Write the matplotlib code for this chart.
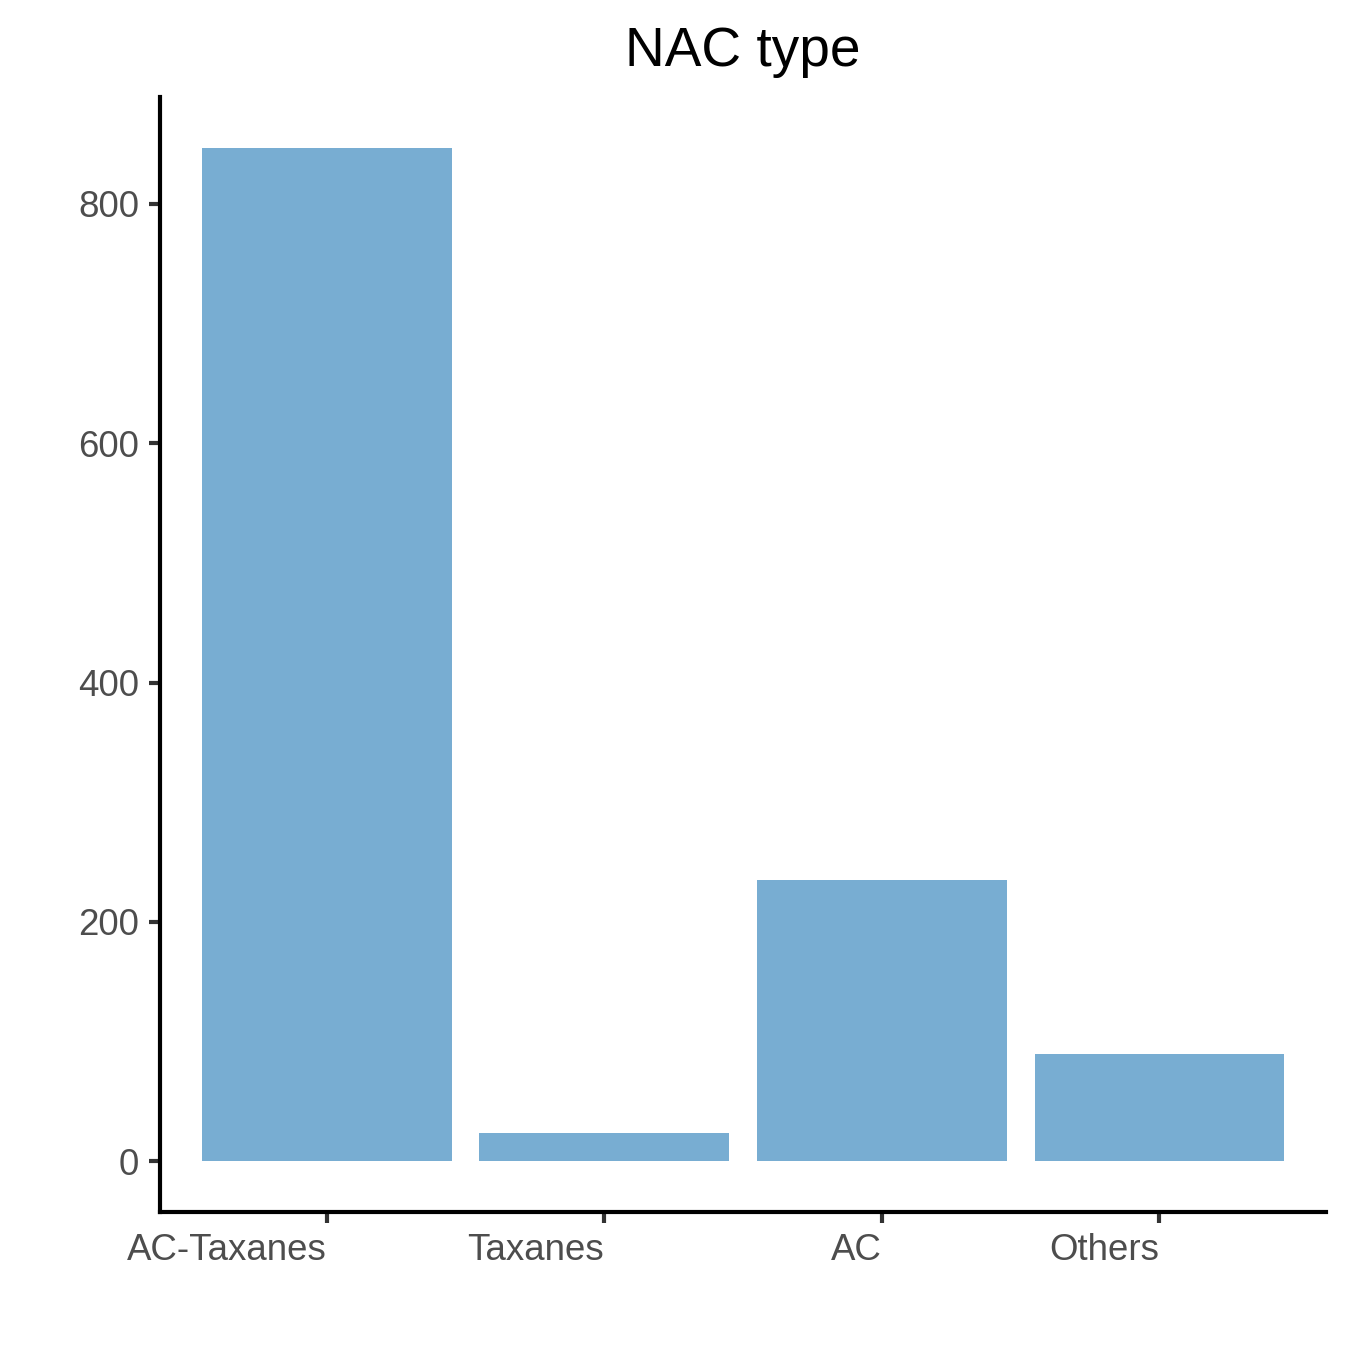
import matplotlib
matplotlib.use("Agg")
import matplotlib.pyplot as plt

categories = ["AC-Taxanes", "Taxanes", "AC", "Others"]
counts = [847, 24, 235, 90]
yticks = [0, 200, 400, 600, 800]
title = "NAC type"

plt.rcParams['font.family'] = ['Liberation Sans', 'DejaVu Sans']

fig = plt.figure(figsize=(4.5, 4.5), dpi=300)
ax = fig.add_axes([160/1350, 1-1212/1350, (1326-160)/1350, (1212-97)/1350])

x = list(range(1, len(categories) + 1))
ax.bar(x, counts, width=0.9, color="#78ADD2", edgecolor="none")

ax.set_xlim(0.4, 4.6)
ymax = max(counts)
ax.set_ylim(-0.05 * ymax, 1.05 * ymax)
ax.set_xticks(x)
ax.set_xticklabels(categories, ha="right")
ax.set_yticks(yticks)
ax.set_yticklabels([str(v) for v in yticks])

for s in ["top", "right"]:
    ax.spines[s].set_visible(False)
for s in ["left", "bottom"]:
    ax.spines[s].set_linewidth(1.0)
    ax.spines[s].set_color("black")

ax.tick_params(axis="both", length=2.6, width=1.0, color="#333333",
               labelcolor="#4D4D4D", labelsize=8.8, pad=2.4)

ax.set_title(title, fontsize=13.2, color="black", pad=7.5)

fig.savefig("out.png", dpi=300)
